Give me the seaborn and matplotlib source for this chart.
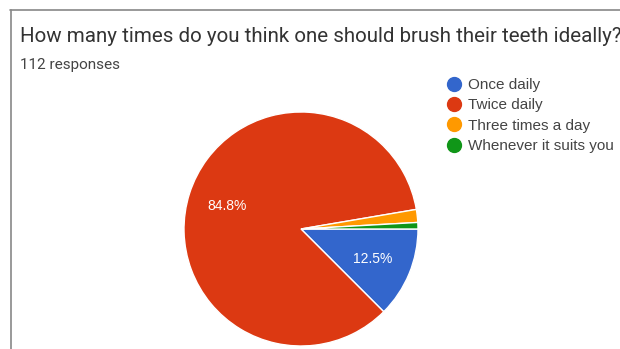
import matplotlib
matplotlib.use("Agg")
import matplotlib.pyplot as plt
from matplotlib.lines import Line2D
import seaborn as sns

# Survey answers (112 responses)
categories = ["Once daily", "Twice daily", "Three times a day", "Whenever it suits you"]
counts = [14, 95, 2, 1]
colors = ["#3366CC", "#DC3912", "#FF9900", "#109618"]
title = "How many times do you think one should brush their teeth ideally?"
subtitle = "112 responses"

sns.set_theme(style="white")
plt.rcParams["font.family"] = ["Roboto", "DejaVu Sans"]
chart_font = ["Liberation Sans", "DejaVu Sans"]

W, H = 620, 349
fig = plt.figure(figsize=(W / 100, H / 100), dpi=100)
fig.patch.set_facecolor("white")

def fx(px):
    return px / W

def fy(py):
    return 1 - py / H

# Pie axes: centre (301, 229), radius 117 px
cx, cy, r = 301, 229, 117
ax = fig.add_axes([fx(cx - r), fy(cy + r), 2 * r / W, 2 * r / H])
wedges, texts, autotexts = ax.pie(
    counts,
    colors=colors,
    startangle=0,
    counterclock=False,
    autopct=lambda p: f"{p:.1f}%" if p > 5 else "",
    pctdistance=0.66,
    wedgeprops=dict(edgecolor="white", linewidth=1),
    textprops=dict(color="white", fontsize=10, family=chart_font),
)
ax.set_xlim(-1, 1)
ax.set_ylim(-1, 1)
ax.set_aspect("equal")
ax.axis("off")

# Title and response count
fig.text(fx(20), fy(42), title, fontsize=14.8, color="#333333", va="baseline", ha="left")
fig.text(fx(20), fy(69), subtitle, fontsize=11, color="#444444", va="baseline", ha="left")

# Legend with round markers
handles = [
    Line2D([0], [0], marker="o", linestyle="none", markersize=10,
           markerfacecolor=c, markeredgecolor=c)
    for c in colors
]
fig.legend(
    handles, categories,
    loc="upper left",
    bbox_to_anchor=(fx(446), fy(78)),
    frameon=False,
    prop=dict(family=chart_font, size=11),
    labelcolor="#444444",
    handlelength=1.0,
    handletextpad=0.45,
    labelspacing=0.42,
    borderpad=0,
    borderaxespad=0,
)

# Card border (top and left edges)
fig.add_artist(Line2D([fx(10), 1], [fy(10), fy(10)], color="#888888", linewidth=1.2))
fig.add_artist(Line2D([fx(11), fx(11)], [fy(10), 0], color="#888888", linewidth=1.2))

fig.savefig("out.png", dpi=100, facecolor="white")
